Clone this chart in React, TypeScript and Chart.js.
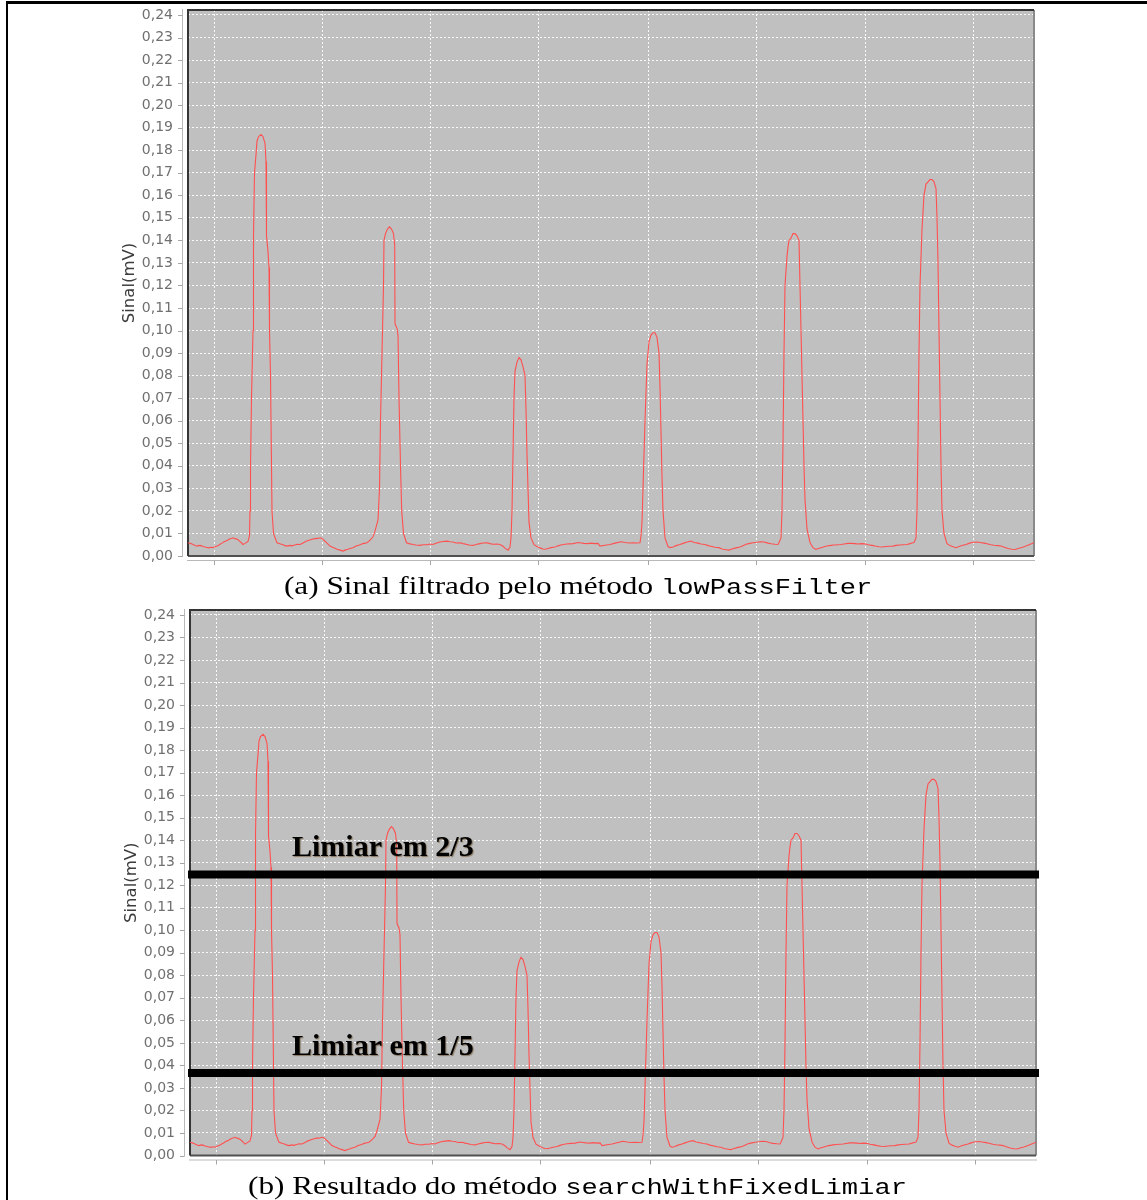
import React, { useEffect, useRef } from 'react';
import { Chart, registerables } from 'chart.js';

Chart.register(...registerables);

// ---------- data (x = sample position, y = signal in mV) ----------
const signalX = [
  0, 3, 5, 7, 9, 11, 13, 15, 17, 19, 21, 23, 25, 27, 29, 31, 32, 34, 36, 38, 39, 41, 42, 44, 45, 47, 48, 50, 51, 53, 55, 57,
  60, 61.5, 62, 62.5, 63.5, 65, 65.5, 66.5, 68, 69, 70.5, 73, 75, 77, 78, 78.5, 80, 81, 81.5, 82.5, 83.5, 84, 85.5, 88, 89,
  92, 95, 97, 99, 102, 104, 106, 109, 112, 115, 118, 121, 124, 127, 130, 132, 134, 136, 138, 140, 142, 145, 147, 149, 152, 155, 157, 160, 162, 165, 168, 170, 172, 175, 177, 179, 181, 183,
  185, 187, 190, 191.5, 192.5, 194, 195.5, 196, 197.5, 199.5, 201.5, 203.5, 205.5, 206.7, 207, 209, 210, 211, 212.5, 213.7, 215.5, 218.5,
  221, 225, 228, 232, 235, 239, 242, 245, 248, 252, 255, 259, 262, 265, 268, 272, 275, 278, 281, 285, 288, 292, 295, 299, 302, 305, 309, 312, 315, 317, 320,
  322, 323, 324, 325, 326, 327, 329, 331, 333, 335, 337, 338, 339, 340, 341, 343, 346,
  349, 352, 355, 357, 360, 363, 367, 370, 373, 377, 381, 385, 388, 390, 393, 396, 400, 403, 407, 410,
  412, 417, 422, 427, 433, 437, 441, 445, 449,
  452, 453, 454, 455, 457, 459, 461, 463, 465, 467, 469, 471, 472, 473, 474, 475, 477, 480,
  482, 485, 488, 492, 495, 499, 503, 506, 510, 513, 517, 520, 524, 527, 531, 534, 538, 541, 544, 548, 552, 555, 558, 562, 565, 569, 572, 576, 580, 583, 587, 590,
  591, 593, 594, 595, 596, 597, 599, 600, 601, 603, 605, 607, 609, 611, 612, 613, 614, 615, 616, 617, 619, 622, 625,
  628, 631, 634, 637, 639, 643, 646, 650, 653, 656, 660, 663, 667, 670, 673, 677, 680, 684, 687, 691, 694, 698, 701, 705, 708, 712, 715, 719, 722, 724,
  726, 728, 729, 730, 731, 732, 734, 736, 738, 740, 742, 744, 746, 748, 749, 750, 751, 752, 753, 754, 756, 759,
  762, 765, 768, 771, 774, 778, 781, 784, 789, 792, 796, 799, 803, 806, 810, 813, 817, 820, 824, 827, 831, 834, 838, 841, 844, 846,
];

const signalY = [
  0.0059, 0.0055, 0.0051, 0.0047, 0.0044, 0.0047, 0.0046, 0.0042, 0.004, 0.0038, 0.0036, 0.0039, 0.0037, 0.0041, 0.0044, 0.0049, 0.0052, 0.0057, 0.0063, 0.0066, 0.0069, 0.0074, 0.0077, 0.0079, 0.0081, 0.0077, 0.0076, 0.0072, 0.0068, 0.006, 0.0051, 0.0056,
  0.0065, 0.009, 0.02, 0.04, 0.07, 0.1, 0.142, 0.17, 0.178, 0.184, 0.186, 0.187, 0.186, 0.183, 0.175, 0.142, 0.135, 0.128, 0.1, 0.08, 0.04, 0.02, 0.01, 0.007, 0.0059,
  0.0054, 0.005, 0.0046, 0.0044, 0.0047, 0.0045, 0.0048, 0.0052, 0.0051, 0.0058, 0.0065, 0.007, 0.0074, 0.0077, 0.0078, 0.0081, 0.0078, 0.007, 0.0062, 0.0053, 0.0044, 0.0038, 0.0034, 0.003, 0.0026, 0.0022, 0.0026, 0.003, 0.0033, 0.0037, 0.0044, 0.0047, 0.005, 0.0055, 0.0057, 0.0059, 0.0066, 0.0075,
  0.0085, 0.011, 0.016, 0.03, 0.06, 0.09, 0.12, 0.14, 0.143, 0.145, 0.146, 0.145, 0.143, 0.138, 0.103, 0.101, 0.098, 0.07, 0.04, 0.02, 0.01, 0.0059,
  0.0055, 0.0051, 0.0049, 0.0047, 0.005, 0.005, 0.0053, 0.0051, 0.0057, 0.0062, 0.0064, 0.0066, 0.0063, 0.0062, 0.0058, 0.0059, 0.0055, 0.0052, 0.0049, 0.0047, 0.0051, 0.0055, 0.0058, 0.0059, 0.0055, 0.0052, 0.0053, 0.0051, 0.0043, 0.0035, 0.0026,
  0.004, 0.008, 0.02, 0.045, 0.07, 0.082, 0.086, 0.088, 0.087, 0.084, 0.08, 0.065, 0.045, 0.03, 0.015, 0.008, 0.005,
  0.0042, 0.0036, 0.0031, 0.003, 0.0033, 0.0037, 0.004, 0.0045, 0.0049, 0.0052, 0.0054, 0.0055, 0.0058, 0.006, 0.0058, 0.0056, 0.0055, 0.0057, 0.0055, 0.0056,
  0.0044, 0.0048, 0.0051, 0.0057, 0.0063, 0.006, 0.0058, 0.0059, 0.0058,
  0.0059, 0.009, 0.015, 0.03, 0.06, 0.085, 0.095, 0.098, 0.099, 0.099, 0.097, 0.09, 0.075, 0.055, 0.035, 0.02, 0.008, 0.0042,
  0.0037, 0.004, 0.0046, 0.0051, 0.0056, 0.0062, 0.0066, 0.006, 0.0057, 0.0053, 0.0051, 0.0046, 0.0042, 0.0039, 0.0037, 0.0031, 0.0028, 0.0026, 0.0031, 0.0036, 0.004, 0.0046, 0.0052, 0.0056, 0.0059, 0.0061, 0.0063, 0.0062, 0.0057, 0.0054, 0.0052, 0.0051,
  0.006, 0.008, 0.02, 0.05, 0.09, 0.12, 0.133, 0.137, 0.14, 0.141, 0.143, 0.143, 0.142, 0.14, 0.12, 0.1, 0.08, 0.06, 0.04, 0.025, 0.012, 0.006, 0.0037,
  0.0029, 0.0034, 0.0038, 0.0042, 0.0044, 0.0047, 0.0049, 0.005, 0.0051, 0.0053, 0.0056, 0.0056, 0.0055, 0.0053, 0.0055, 0.0054, 0.005, 0.0047, 0.0044, 0.0041, 0.004, 0.0042, 0.0043, 0.0044, 0.0047, 0.0049, 0.005, 0.0051, 0.0055, 0.0058,
  0.006, 0.008, 0.02, 0.05, 0.09, 0.12, 0.145, 0.16, 0.165, 0.166, 0.167, 0.167, 0.166, 0.163, 0.15, 0.13, 0.1, 0.07, 0.04, 0.02, 0.01, 0.0055,
  0.0046, 0.0041, 0.0037, 0.0042, 0.0047, 0.0051, 0.0056, 0.006, 0.0062, 0.006, 0.0057, 0.0054, 0.005, 0.0048, 0.0046, 0.0044, 0.0038, 0.0033, 0.003, 0.0029, 0.0034, 0.0038, 0.0044, 0.005, 0.0055, 0.0059,
];

const xAxisRange = [0, 846];
const xGridTicks = [26, 134, 242, 350, 460, 568, 677, 785];
const yAxisRange = [0, 0.2422];
const yTickValues = [
  0, 0.01, 0.02, 0.03, 0.04, 0.05, 0.06, 0.07, 0.08, 0.09, 0.1, 0.11, 0.12,
  0.13, 0.14, 0.15, 0.16, 0.17, 0.18, 0.19, 0.2, 0.21, 0.22, 0.23, 0.24,
];
const yTickLabels = [
  '0,00', '0,01', '0,02', '0,03', '0,04', '0,05', '0,06', '0,07', '0,08', '0,09', '0,10', '0,11', '0,12',
  '0,13', '0,14', '0,15', '0,16', '0,17', '0,18', '0,19', '0,20', '0,21', '0,22', '0,23', '0,24',
];
const yAxisTitle = 'Sinal(mV)';

const thresholdValues = [0.1248, 0.0366];
const thresholdLabels = ['Limiar em 2/3', 'Limiar em 1/5'];
const thresholdSpan = [-2, 849];
const thresholdLabelX = 102;

const captionA = ['(a) Sinal filtrado pelo método ', 'lowPassFilter'];
const captionB = ['(b) Resultado do método ', 'searchWithFixedLimiar'];

// ---------- chart helpers ----------
function makeDecor(withThresholds: boolean) {
  return {
    id: 'decor',
    beforeDraw(chart: any) {
      const { ctx, chartArea: a } = chart;
      ctx.save();
      ctx.fillStyle = '#c0c0c0';
      ctx.fillRect(a.left, a.top, a.right - a.left, a.bottom - a.top);
      ctx.restore();
    },
    beforeDatasetsDraw(chart: any) {
      const { ctx, chartArea: a, scales } = chart;
      const xs = scales.x;
      const ys = scales.y;
      ctx.save();
      ctx.lineWidth = 1;
      ctx.strokeStyle = '#b9b9b9';
      ctx.beginPath();
      ctx.moveTo(a.left - 5.5, a.top - 1);
      ctx.lineTo(a.left - 5.5, a.bottom + 1);
      ctx.stroke();
      ctx.beginPath();
      ctx.moveTo(a.left - 1, a.bottom + 4.5);
      ctx.lineTo(a.right + 1, a.bottom + 4.5);
      ctx.stroke();
      ctx.strokeStyle = '#a5a5a5';
      ys.ticks.forEach((t: any) => {
        const py = Math.round(ys.getPixelForValue(t.value)) + 0.5;
        ctx.beginPath();
        ctx.moveTo(a.left - 10, py);
        ctx.lineTo(a.left - 5.5, py);
        ctx.stroke();
      });
      xs.ticks.forEach((t: any) => {
        const px = Math.round(xs.getPixelForValue(t.value)) + 0.5;
        ctx.beginPath();
        ctx.moveTo(px, a.bottom + 4.5);
        ctx.lineTo(px, a.bottom + 9);
        ctx.stroke();
      });
      ctx.lineWidth = 2;
      ctx.strokeStyle = '#8a8a8a';
      ctx.beginPath();
      ctx.moveTo(a.right, a.top);
      ctx.lineTo(a.right, a.bottom);
      ctx.stroke();
      ctx.strokeStyle = '#505050';
      ctx.beginPath();
      ctx.moveTo(a.left, a.bottom);
      ctx.lineTo(a.right, a.bottom);
      ctx.stroke();
      ctx.strokeStyle = '#353535';
      ctx.beginPath();
      ctx.moveTo(a.left, a.bottom);
      ctx.lineTo(a.left, a.top);
      ctx.lineTo(a.right, a.top);
      ctx.stroke();
      ctx.restore();
    },
    afterDraw(chart: any) {
      if (!withThresholds) return;
      const { ctx, scales } = chart;
      ctx.save();
      ctx.font = 'bold 30px "Liberation Serif"';
      ctx.fillStyle = '#000';
      ctx.textAlign = 'left';
      ctx.textBaseline = 'alphabetic';
      ctx.shadowColor = 'rgba(90, 60, 20, 0.55)';
      ctx.shadowOffsetX = 1;
      ctx.shadowOffsetY = 1;
      ctx.shadowBlur = 1;
      thresholdValues.forEach((t, i) => {
        const px = scales.x.getPixelForValue(thresholdLabelX);
        const py = scales.y.getPixelForValue(t) - 18.5;
        ctx.fillText(thresholdLabels[i], px, py);
      });
      ctx.restore();
    },
  };
}

function buildConfig(withThresholds: boolean, padRight: number, padBottom: number): any {
  const datasets: any[] = [
    {
      data: signalX.map((x, i) => ({ x, y: signalY[i] })),
      borderColor: 'rgb(255, 80, 80)',
      borderWidth: 1.1,
      pointRadius: 0,
      tension: 0,
      order: 2,
    },
  ];
  if (withThresholds) {
    thresholdValues.forEach((t) => {
      datasets.push({
        data: thresholdSpan.map((x) => ({ x, y: t })),
        borderColor: '#000',
        borderWidth: 8,
        borderCapStyle: 'butt',
        pointRadius: 0,
        clip: false,
        order: 0,
      });
    });
  }
  return {
    type: 'line',
    data: { datasets },
    options: {
      responsive: false,
      animation: false,
      devicePixelRatio: 1,
      events: [],
      layout: { padding: { left: 0, top: 10, right: padRight, bottom: padBottom } },
      plugins: { legend: { display: false }, tooltip: { enabled: false } },
      scales: {
        x: {
          type: 'linear',
          min: xAxisRange[0],
          max: xAxisRange[1],
          afterBuildTicks: (s: any) => {
            s.ticks = xGridTicks.map((v) => ({ value: v }));
          },
          afterFit: (s: any) => {
            s.height = 0;
            s.paddingLeft = 0;
            s.paddingRight = 0;
            s.paddingTop = 0;
            s.paddingBottom = 0;
          },
          ticks: { display: false },
          grid: { color: 'rgba(255,255,255,0.9)', lineWidth: 1, drawTicks: false },
          border: { display: false, dash: [2, 2] },
        },
        y: {
          type: 'linear',
          min: yAxisRange[0],
          max: yAxisRange[1],
          afterBuildTicks: (s: any) => {
            s.ticks = yTickValues.map((v) => ({ value: v }));
          },
          afterFit: (s: any) => {
            s.width = 188;
            s.paddingTop = 0;
            s.paddingBottom = 0;
            s.paddingLeft = 0;
            s.paddingRight = 0;
          },
          ticks: {
            autoSkip: false,
            padding: 15,
            color: '#707070',
            font: { family: '"DejaVu Sans"', size: 14 },
            callback: (_v: any, i: number) => yTickLabels[i],
          },
          grid: { color: 'rgba(255,255,255,0.9)', lineWidth: 1, drawTicks: false },
          border: { display: false, dash: [2, 2] },
          title: {
            display: true,
            text: yAxisTitle,
            color: '#3c3c3c',
            font: { family: '"DejaVu Sans"', size: 16.5 },
            padding: { top: 120, bottom: 0 },
          },
        },
      },
    },
    plugins: [makeDecor(withThresholds)],
  };
}

function SignalChart(props: {
  left: number;
  top: number;
  width: number;
  height: number;
  padRight: number;
  padBottom: number;
  thresholds: boolean;
}) {
  const ref = useRef<HTMLCanvasElement>(null);
  useEffect(() => {
    const chart = new Chart(ref.current as HTMLCanvasElement, buildConfig(props.thresholds, props.padRight, props.padBottom));
    return () => chart.destroy();
  }, []);
  return (
    <canvas
      ref={ref}
      width={props.width}
      height={props.height}
      style={{ position: 'absolute', left: props.left, top: props.top, width: props.width, height: props.height }}
    />
  );
}

function Caption(props: { top: number; parts: string[] }) {
  return (
    <div
      style={{
        position: 'absolute',
        left: 0,
        top: props.top,
        width: 1156,
        textAlign: 'center',
        whiteSpace: 'pre',
        lineHeight: '26px',
        zIndex: 2,
      }}
    >
      <span
        style={{
          display: 'inline-block',
          transform: 'scaleX(1.2)',
          fontFamily: '"Liberation Serif", serif',
          fontSize: 26,
          color: '#000',
        }}
      >
        {props.parts[0]}
        <span style={{ fontFamily: '"Liberation Mono", monospace', fontSize: 22.6 }}>{props.parts[1]}</span>
      </span>
    </div>
  );
}

export default function App() {
  return (
    <div
      style={{
        position: 'absolute',
        left: 0,
        top: 0,
        width: 1147,
        height: 1200,
        background: '#fff',
        overflow: 'hidden',
      }}
    >
      <div style={{ position: 'absolute', left: 6, top: 1, width: 1141, height: 3, background: '#000' }} />
      <div style={{ position: 'absolute', left: 6, top: 1, width: 2, height: 1199, background: '#000' }} />
      <SignalChart left={0} top={0} width={1147} height={575} padRight={113} padBottom={19} thresholds={false} />
      <SignalChart left={2} top={600} width={1145} height={600} padRight={111} padBottom={44.5} thresholds={true} />
      <Caption top={573} parts={captionA} />
      <Caption top={1173} parts={captionB} />
    </div>
  );
}
